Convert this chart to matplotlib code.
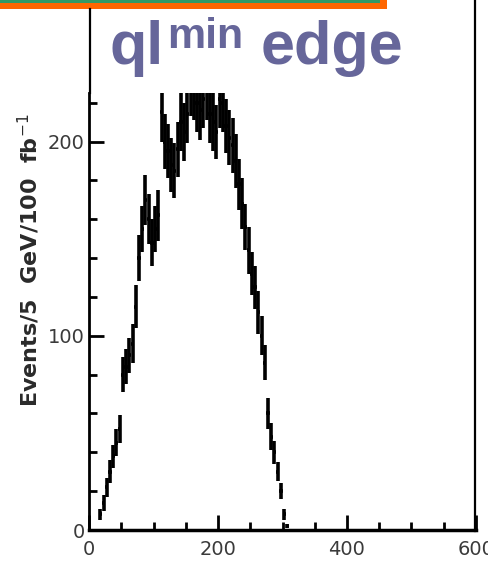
import matplotlib.pyplot as plt
from matplotlib.lines import Line2D
from matplotlib.patches import Rectangle
import numpy as np

# m(ql) min distribution, 5 GeV bins
bin_centres = [17.5, 22.5, 27.5, 32.5, 37.5, 42.5, 47.5, 52.5, 57.5, 62.5,
               67.5, 72.5, 77.5, 82.5, 87.5, 92.5, 97.5, 102.5, 107.5, 112.5,
               117.5, 122.5, 127.5, 132.5, 137.5, 142.5, 147.5, 152.5, 157.5, 162.5,
               167.5, 172.5, 177.5, 182.5, 187.5, 192.5, 197.5, 202.5, 207.5, 212.5,
               217.5, 222.5, 227.5, 232.5, 237.5, 242.5, 247.5, 252.5, 257.5, 262.5,
               267.5, 272.5, 277.5, 282.5, 287.5, 292.5, 297.5, 302.5, 307.5]
events = [8, 14, 22, 30, 38, 45, 52, 80, 84, 90,
          96, 115, 140, 155, 170, 160, 148, 155, 162, 215,
          200, 195, 188, 185, 196, 210, 205, 214, 228, 226,
          220, 216, 222, 226, 214, 210, 205, 222, 220, 208,
          202, 198, 190, 178, 168, 156, 144, 132, 125, 112,
          100, 86, 60, 48, 40, 30, 20, 8, 2]
errors = [3, 4, 5, 6, 6, 7, 7, 9, 9, 9,
          10, 11, 12, 12, 13, 13, 12, 12, 13, 15,
          14, 14, 14, 14, 14, 15, 15, 15, 15, 15,
          15, 15, 15, 15, 15, 15, 14, 15, 15, 14,
          14, 14, 14, 13, 13, 12, 12, 11, 11, 11,
          10, 9, 8, 7, 6, 5, 4, 3, 1]

W, H = 488, 564
fig = plt.figure(figsize=(W / 100, H / 100), dpi=100)


def fx(px):
    return px / W


def fy(py):
    return 1 - py / H


ax = fig.add_axes([fx(89), fy(530), fx(476) - fx(89), fy(93) - fy(530)])
ax.errorbar(bin_centres, events, yerr=errors, xerr=2.5, fmt="none",
            ecolor="black", elinewidth=2.6, capsize=0)
ax.set_xlim(0, 600)
ax.set_ylim(0, 225)

ax.spines["top"].set_visible(False)
ax.spines["right"].set_visible(False)
ax.spines["left"].set_linewidth(2)
ax.spines["bottom"].set_linewidth(2.5)

ax.set_xticks([0, 200, 400, 600])
ax.set_xticks(np.arange(0, 601, 50), minor=True)
ax.set_yticks([0, 100, 200])
ax.set_yticks(np.arange(0, 226, 20), minor=True)
ax.tick_params(which="major", direction="in", length=11, width=2,
               labelsize=14, labelcolor="#3a3a3a")
ax.tick_params(which="minor", direction="in", length=6, width=2)
ax.tick_params(axis="x", pad=7)
ax.tick_params(axis="y", pad=3)

# y label placed by hand so it spans the same height as the original
fig.text(fx(29), fy(260), "Events/5  GeV/100  fb$^{-1}$", fontsize=16,
         fontweight="bold", color="#2a2a2a", rotation=90,
         ha="center", va="center")

# slide decorations: coloured bar and frame lines
fig.add_artist(Rectangle((0, fy(9)), fx(387), 9 / H, transform=fig.transFigure,
                         facecolor="#ff6600", edgecolor="none"))
fig.add_artist(Rectangle((0, fy(3)), fx(380), 3 / H, transform=fig.transFigure,
                         facecolor="#339966", edgecolor="none"))
fig.add_artist(Line2D([fx(90), fx(90)], [fy(9), fy(93)], color="black", lw=1.6))
fig.add_artist(Line2D([fx(475), fx(475)], [fy(0), fy(531)], color="black", lw=1.6))

# title
title_col = "#66669a"
fig.text(fx(110), fy(64), "ql", fontsize=44, fontweight="bold",
         family="Liberation Sans", color=title_col, va="baseline")
fig.text(fx(167), fy(48), "min", fontsize=31, fontweight="bold",
         family="Liberation Sans", color=title_col, va="baseline")
fig.text(fx(261), fy(64), "edge", fontsize=44, fontweight="bold",
         family="Liberation Sans", color=title_col, va="baseline")

fig.savefig("out.png", dpi=100)
